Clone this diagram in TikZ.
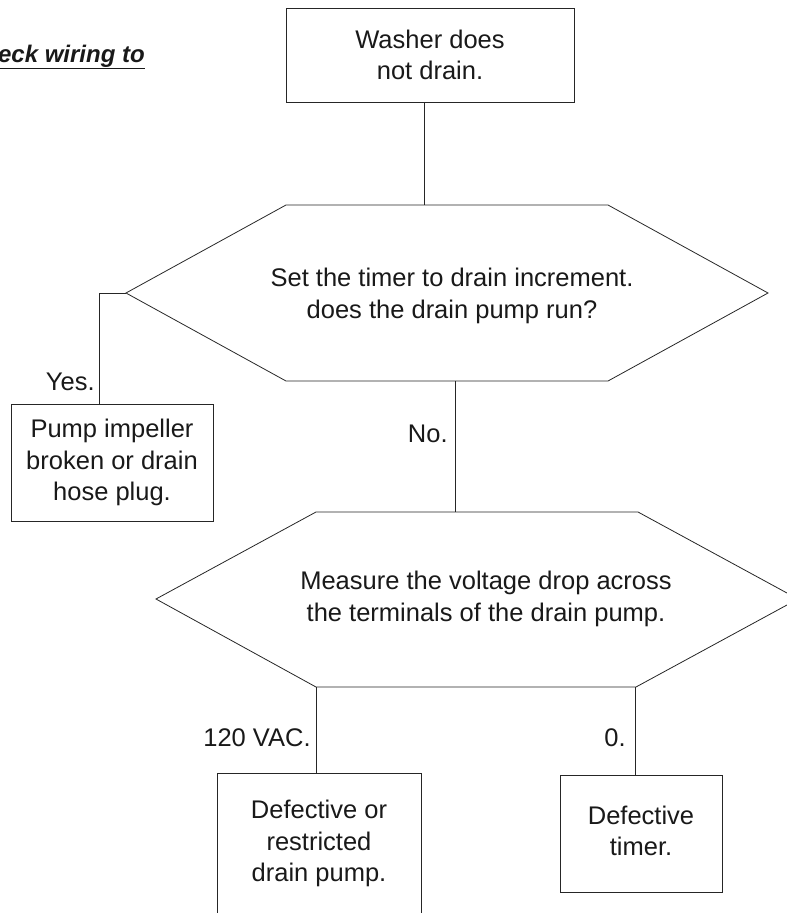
\documentclass[tikz,border=0pt]{standalone}
\usepackage{fontspec}
\setmainfont{Liberation Sans}
\begin{document}
\begin{tikzpicture}[x=1pt,y=-1pt]
\tikzstyle{line}=[draw,line width=.8pt,black!85]
\tikzstyle{txt}=[align=center,inner sep=0pt,text=black!90,font=\fontsize{25.5}{31.5}\selectfont]
\tikzstyle{box}=[txt,draw=black!85,line width=.8pt]
\useasboundingbox(0,0)rectangle(787,913);
\node[txt,anchor=base east,font=\fontsize{24}{28}\selectfont\bfseries\itshape](chk)at(145,62){\underline{Check wiring to}};
\node[box,minimum width=288,minimum height=94](washer)at(430,55){Washer does\\not drain.};
% first question
\coordinate(q1nw)at(286,205);\coordinate(q1ne)at(608,205);\coordinate(q1e)at(768,293);
\coordinate(q1se)at(608,381);\coordinate(q1sw)at(286,381);\coordinate(q1w)at(126,293);
\path[line](q1nw)--(q1ne)--(q1e)--(q1se)--(q1sw)--(q1w)--cycle;
\node[txt](q1)at(452,296){Set the timer to drain increment.\\does the drain pump run?};
\coordinate(q1in)at(424,205);
\path[line](washer.south-|q1in)--(q1in);
\node[box,minimum width=202,minimum height=117](pump)at(112,462.5){Pump impeller\\broken or drain\\hose plug.};
\coordinate(yes)at(99,293);
\path[line](q1w)--(yes)--(yes|-pump.north)node[txt,left=4pt,pos=.8]{Yes.};
% second question
\coordinate(q2nw)at(316,512);\coordinate(q2ne)at(638,512);\coordinate(q2e)at(798,599);
\coordinate(q2se)at(636,687);\coordinate(q2sw)at(316,687);\coordinate(q2w)at(156,599);
\path[line](q2nw)--(q2ne)--(q2e)--(q2se)--(q2sw)--(q2w)--cycle;
\node[txt](q2)at(486,599){Measure the voltage drop across\\the terminals of the drain pump.};
\coordinate(no)at(455,381);
\path[line](no)--(no|-q2nw)node[txt,left=7pt,pos=.4]{No.};
\node[box,minimum width=204,minimum height=141](pumpbad)at(319,843.5){Defective or\\restricted\\drain pump.};
\node[box,minimum width=162,minimum height=117](timer)at(641,833.5){Defective\\timer.\vphantom{p}};
\path[line](q2sw)--(pumpbad.north-|q2sw)node[txt,left=5pt,pos=.59]{120 VAC.};
\coordinate(zero)at(635,687);
\path[line](zero)--(timer.north-|zero)node[txt,left=9pt,pos=.58]{0.};
\end{tikzpicture}
\end{document}
